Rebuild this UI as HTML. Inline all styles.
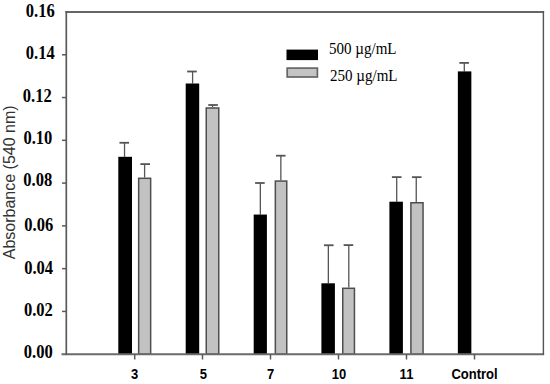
<!DOCTYPE html>
<html><head><meta charset="utf-8"><style>
html,body{margin:0;padding:0;background:#fff;width:550px;height:384px;overflow:hidden}
svg{display:block}
.yl{font-family:"Liberation Serif",serif;font-weight:bold;font-size:18px;fill:#000}
.xl{font-family:"Liberation Sans",sans-serif;font-weight:bold;font-size:14px;fill:#000}
.lg{font-family:"Liberation Serif",serif;font-size:16px;fill:#000}
.yt{font-family:"Liberation Sans",sans-serif;font-size:16px;fill:#333}
</style></head><body>
<svg width="550" height="384" viewBox="0 0 550 384">
<line x1="124.53" y1="156.80" x2="124.53" y2="142.77" stroke="#555" stroke-width="1.3"/>
<line x1="119.45" y1="142.77" x2="129.05" y2="142.77" stroke="#555" stroke-width="1.8"/>
<rect x="118.30" y="156.80" width="13.70" height="197.40" fill="#000"/>
<line x1="192.60" y1="83.50" x2="192.60" y2="71.50" stroke="#555" stroke-width="1.3"/>
<line x1="187.17" y1="71.50" x2="196.77" y2="71.50" stroke="#555" stroke-width="1.8"/>
<rect x="185.70" y="83.50" width="13.50" height="270.70" fill="#000"/>
<line x1="260.35" y1="214.55" x2="260.35" y2="183.00" stroke="#555" stroke-width="1.3"/>
<line x1="255.10" y1="183.00" x2="264.70" y2="183.00" stroke="#555" stroke-width="1.8"/>
<rect x="253.70" y="214.55" width="13.20" height="139.65" fill="#000"/>
<line x1="328.35" y1="283.30" x2="328.35" y2="245.25" stroke="#555" stroke-width="1.3"/>
<line x1="323.95" y1="245.25" x2="333.55" y2="245.25" stroke="#555" stroke-width="1.8"/>
<rect x="321.40" y="283.30" width="13.50" height="70.90" fill="#000"/>
<line x1="396.70" y1="201.70" x2="396.70" y2="177.10" stroke="#555" stroke-width="1.3"/>
<line x1="391.90" y1="177.10" x2="401.50" y2="177.10" stroke="#555" stroke-width="1.8"/>
<rect x="389.40" y="201.70" width="13.50" height="152.50" fill="#000"/>
<line x1="464.30" y1="71.40" x2="464.30" y2="62.90" stroke="#555" stroke-width="1.3"/>
<line x1="459.35" y1="62.90" x2="468.95" y2="62.90" stroke="#555" stroke-width="1.8"/>
<rect x="457.85" y="71.40" width="13.50" height="282.80" fill="#000"/>
<line x1="144.60" y1="177.60" x2="144.60" y2="164.10" stroke="#555" stroke-width="1.3"/>
<line x1="140.40" y1="164.10" x2="150.00" y2="164.10" stroke="#555" stroke-width="1.8"/>
<rect x="138.65" y="178.30" width="12.00" height="175.90" fill="#c2c2c2" stroke="#4e4e4e" stroke-width="1.5"/>
<line x1="212.55" y1="107.30" x2="212.55" y2="105.00" stroke="#555" stroke-width="1.3"/>
<line x1="208.25" y1="105.00" x2="217.85" y2="105.00" stroke="#555" stroke-width="1.8"/>
<rect x="206.25" y="108.00" width="12.50" height="246.20" fill="#c2c2c2" stroke="#4e4e4e" stroke-width="1.5"/>
<line x1="280.85" y1="180.35" x2="280.85" y2="155.70" stroke="#555" stroke-width="1.3"/>
<line x1="275.95" y1="155.70" x2="285.55" y2="155.70" stroke="#555" stroke-width="1.8"/>
<rect x="275.35" y="181.05" width="11.40" height="173.15" fill="#c2c2c2" stroke="#4e4e4e" stroke-width="1.5"/>
<line x1="348.80" y1="287.60" x2="348.80" y2="245.10" stroke="#555" stroke-width="1.3"/>
<line x1="343.65" y1="245.10" x2="353.25" y2="245.10" stroke="#555" stroke-width="1.8"/>
<rect x="342.75" y="288.30" width="11.70" height="65.90" fill="#c2c2c2" stroke="#4e4e4e" stroke-width="1.5"/>
<line x1="416.25" y1="202.05" x2="416.25" y2="177.15" stroke="#555" stroke-width="1.3"/>
<line x1="411.95" y1="177.15" x2="421.55" y2="177.15" stroke="#555" stroke-width="1.8"/>
<rect x="410.90" y="202.75" width="12.15" height="151.45" fill="#c2c2c2" stroke="#4e4e4e" stroke-width="1.5"/>
<line x1="65.5" y1="12.0" x2="544.1" y2="12.0" stroke="#666" stroke-width="1.8"/>
<line x1="61.5" y1="354.2" x2="544.1" y2="354.2" stroke="#6a6a6a" stroke-width="1.9"/>
<line x1="66.3" y1="11.1" x2="66.3" y2="355.1" stroke="#5a5a5a" stroke-width="1.7"/>
<line x1="543.4" y1="11.1" x2="543.4" y2="355.1" stroke="#555" stroke-width="1.4"/>
<line x1="62" y1="311.43" x2="66" y2="311.43" stroke="#5a5a5a" stroke-width="1.5"/>
<line x1="62" y1="268.65" x2="66" y2="268.65" stroke="#5a5a5a" stroke-width="1.5"/>
<line x1="62" y1="225.88" x2="66" y2="225.88" stroke="#5a5a5a" stroke-width="1.5"/>
<line x1="62" y1="183.10" x2="66" y2="183.10" stroke="#5a5a5a" stroke-width="1.5"/>
<line x1="62" y1="140.32" x2="66" y2="140.32" stroke="#5a5a5a" stroke-width="1.5"/>
<line x1="62" y1="97.55" x2="66" y2="97.55" stroke="#5a5a5a" stroke-width="1.5"/>
<line x1="62" y1="54.77" x2="66" y2="54.77" stroke="#5a5a5a" stroke-width="1.5"/>
<line x1="134.70" y1="354" x2="134.70" y2="359.5" stroke="#5a5a5a" stroke-width="1.5"/>
<line x1="202.50" y1="354" x2="202.50" y2="359.5" stroke="#5a5a5a" stroke-width="1.5"/>
<line x1="270.50" y1="354" x2="270.50" y2="359.5" stroke="#5a5a5a" stroke-width="1.5"/>
<line x1="338.50" y1="354" x2="338.50" y2="359.5" stroke="#5a5a5a" stroke-width="1.5"/>
<line x1="406.50" y1="354" x2="406.50" y2="359.5" stroke="#5a5a5a" stroke-width="1.5"/>
<line x1="474.50" y1="354" x2="474.50" y2="359.5" stroke="#5a5a5a" stroke-width="1.5"/>
<text transform="translate(54.8,16.8) scale(0.92,1)" text-anchor="end" class="yl">0.16</text>
<text transform="translate(54.8,59.0) scale(0.92,1)" text-anchor="end" class="yl">0.14</text>
<text transform="translate(51.8,101.8) scale(0.92,1)" text-anchor="end" class="yl">0.12</text>
<text transform="translate(52.4,143.9) scale(0.92,1)" text-anchor="end" class="yl">0.10</text>
<text transform="translate(52.2,186.2) scale(0.92,1)" text-anchor="end" class="yl">0.08</text>
<text transform="translate(53.3,230.7) scale(0.92,1)" text-anchor="end" class="yl">0.06</text>
<text transform="translate(53.1,273.6) scale(0.92,1)" text-anchor="end" class="yl">0.04</text>
<text transform="translate(52.9,315.7) scale(0.92,1)" text-anchor="end" class="yl">0.02</text>
<text transform="translate(52.7,357.7) scale(0.92,1)" text-anchor="end" class="yl">0.00</text>
<text transform="translate(134.70,379) scale(0.93,1)" text-anchor="middle" class="xl">3</text>
<text transform="translate(203.30,379) scale(0.93,1)" text-anchor="middle" class="xl">5</text>
<text transform="translate(270.50,379) scale(0.93,1)" text-anchor="middle" class="xl">7</text>
<text transform="translate(339.10,379) scale(0.93,1)" text-anchor="middle" class="xl">10</text>
<text transform="translate(406.50,379) scale(0.93,1)" text-anchor="middle" class="xl">11</text>
<text transform="translate(474.50,379) scale(0.93,1)" text-anchor="middle" class="xl">Control</text>
<rect x="286.5" y="49.6" width="31.5" height="10.5" fill="#000"/>
<rect x="287.2" y="68.1" width="30.2" height="8.9" fill="#c4c4c4" stroke="#666" stroke-width="1.7"/>
<text transform="translate(329,53.7) scale(0.94,1)" class="lg">500 µg/mL</text>
<text transform="translate(330,81.2) scale(0.94,1)" class="lg">250 µg/mL</text>
<text transform="translate(14.7,182.3) rotate(-90)" text-anchor="middle" class="yt">Absorbance (540 nm)</text>
</svg>
</body></html>
